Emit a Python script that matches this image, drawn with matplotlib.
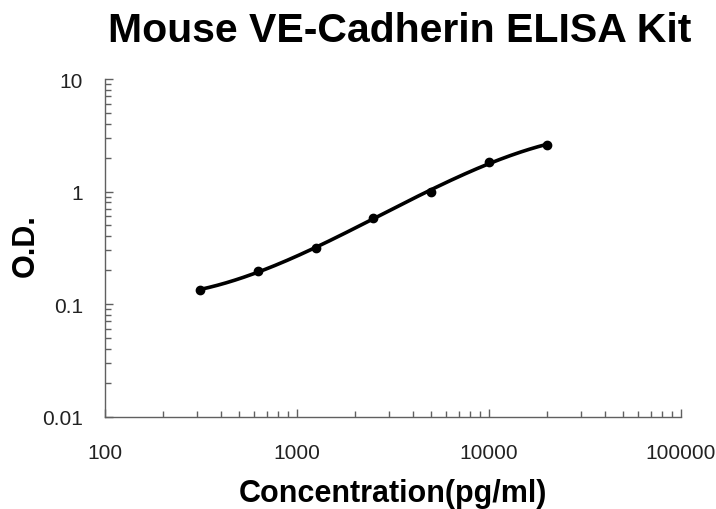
import numpy as np
import matplotlib
matplotlib.use("Agg")
import matplotlib.pyplot as plt
from matplotlib.ticker import LogLocator, FixedFormatter, FixedLocator

# ── Dados da curva padrão ──────────────────────────────
conc = [312.5, 625, 1250, 2500, 5000, 10000, 20000]
od = [0.134, 0.195, 0.314, 0.584, 1.0, 1.83, 2.60]

x_ticks = [100, 1000, 10000, 100000]
x_labels = ["100", "1000", "10000", "100000"]
y_ticks = [0.01, 0.1, 1, 10]
y_labels = ["0.01", "0.1", "1", "10"]

plt.rcParams["font.family"] = ["Liberation Sans", "DejaVu Sans"]

fig = plt.figure(figsize=(7.16, 5.10), dpi=100)
ax = fig.add_axes([105 / 716, 1 - 417.6 / 510, 576 / 716, 337.6 / 510])

# curva suave (ajuste polinomial em log-log)
lx = np.log10(conc)
ly = np.log10(od)
coef = np.polyfit(lx, ly, 3)
xs = np.linspace(lx[0], lx[-1], 200)
ax.plot(10 ** xs, 10 ** np.polyval(coef, xs), color="black", linewidth=2.6,
        solid_capstyle="round")
ax.plot(conc, od, "o", color="black", markersize=6)

ax.set_xscale("log")
ax.set_yscale("log")
ax.set_xlim(100, 100000)
ax.set_ylim(0.01, 10)

ax.xaxis.set_major_locator(FixedLocator(x_ticks))
ax.xaxis.set_major_formatter(FixedFormatter(x_labels))
ax.yaxis.set_major_locator(FixedLocator(y_ticks))
ax.yaxis.set_major_formatter(FixedFormatter(y_labels))
ax.xaxis.set_minor_locator(LogLocator(base=10, subs=np.arange(2, 10)))
ax.yaxis.set_minor_locator(LogLocator(base=10, subs=np.arange(2, 10)))
ax.xaxis.set_minor_formatter(plt.NullFormatter())
ax.yaxis.set_minor_formatter(plt.NullFormatter())

spine_col = "#606060"
for s in ("top", "right"):
    ax.spines[s].set_visible(False)
for s in ("left", "bottom"):
    ax.spines[s].set_color(spine_col)
    ax.spines[s].set_linewidth(1.0)

ax.tick_params(which="both", direction="in", color=spine_col, width=1.0)
ax.tick_params(which="major", length=6, labelsize=15, labelcolor="#222222")
ax.tick_params(which="minor", length=4)
ax.tick_params(axis="x", which="major", pad=19)
ax.tick_params(axis="y", which="major", pad=16)

fig.text(400 / 716, 1 - 31 / 510, "Mouse VE-Cadherin ELISA Kit", ha="center",
         va="center", fontsize=29.5, fontweight="bold")
fig.text(393 / 716, 1 - 494 / 510, "Concentration(pg/ml)", ha="center",
         va="center", fontsize=22, fontweight="bold")
fig.text(26 / 716, 1 - 246 / 510, "O.D.", ha="center", va="center",
         fontsize=22, fontweight="bold", rotation=90)

fig.savefig("out.png", dpi=100, facecolor="white")
